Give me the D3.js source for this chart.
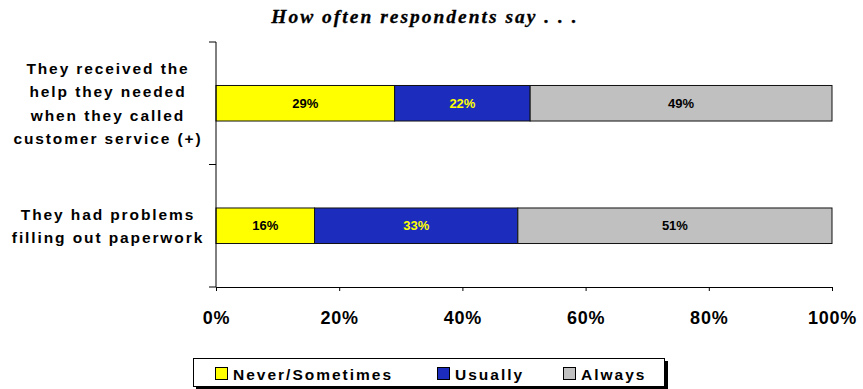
<!DOCTYPE html>
<html>
<head>
<meta charset="utf-8">
<script src="https://cdn.jsdelivr.net/npm/d3@7"></script>
<style>
  html, body { margin: 0; padding: 0; background: #fff; }
  svg { display: block; }
</style>
</head>
<body>
<svg id="chart" width="863" height="389"></svg>
<script>
// Survey statements (label text wrapped by hand)
const categories = [
  ["They received the", "help they needed", "when they called", "customer service (+)"],
  ["They had problems", "filling out paperwork"]
];
const seriesNames = ["Never/Sometimes", "Usually", "Always"];
const neverSometimes = [29, 16];
const usually = [22, 33];
const always = [49, 51];
const xTicks = [0, 20, 40, 60, 80, 100];
const colors = ["#ffff00", "#1c2dbd", "#c0c0c0"];
const labelColors = ["#000", "#ffff00", "#000"];

const svg = d3.select("#chart");
const margin = { left: 216, right: 31, top: 42, bottom: 102 };
const W = 863, H = 389;

const x = d3.scaleLinear().domain([0, 100]).range([margin.left, W - margin.right]);
const y = d3.scaleBand().domain(d3.range(categories.length))
  .range([margin.top, H - margin.bottom]).paddingInner(0.71).paddingOuter(0.355);

const rows = categories.map((c, i) => ({
  i, vals: [neverSometimes[i], usually[i], always[i]]
}));

// Title
svg.append("text")
  .attr("x", 425).attr("y", 23)
  .attr("text-anchor", "middle")
  .attr("font-family", "'Liberation Serif', 'Times New Roman', serif")
  .attr("font-weight", "bold").attr("font-style", "italic")
  .attr("font-size", 19.5).attr("letter-spacing", 2)
  .attr("stroke", "#000").attr("stroke-width", 0.3)
  .text("How often respondents say . . .");

// Stacked segments
rows.forEach(r => {
  let acc = 0;
  r.vals.forEach((v, k) => {
    const x0 = acc; acc += v;
    svg.append("rect")
      .attr("x", x(x0)).attr("y", y(r.i))
      .attr("width", x(acc) - x(x0)).attr("height", y.bandwidth())
      .attr("fill", colors[k]).attr("stroke", "#111").attr("stroke-width", 1);
    svg.append("text")
      .attr("x", (x(x0) + x(acc)) / 2).attr("y", y(r.i) + y.bandwidth() / 2 + 4.5)
      .attr("text-anchor", "middle")
      .attr("font-family", "'Liberation Sans Narrow', 'Arial Narrow', 'Liberation Sans', sans-serif")
      .attr("font-weight", "bold").attr("font-size", 13)
      .attr("fill", labelColors[k])
      .text(v + "%");
  });
});

// Y axis line with outward ticks at category boundaries
const yAxisG = svg.append("g");
yAxisG.append("line")
  .attr("x1", margin.left).attr("x2", margin.left)
  .attr("y1", margin.top).attr("y2", H - margin.bottom)
  .attr("stroke", "#000");
const step = (H - margin.bottom - margin.top) / categories.length;
d3.range(categories.length + 1).forEach(j => {
  yAxisG.append("line")
    .attr("x1", margin.left - 7).attr("x2", margin.left)
    .attr("y1", margin.top + j * step).attr("y2", margin.top + j * step)
    .attr("stroke", "#000");
});

// Category labels
categories.forEach((lines, i) => {
  const cy = y(i) + y.bandwidth() / 2;
  const lh = 23.5;
  const t = svg.append("text")
    .attr("text-anchor", "middle")
    .attr("font-family", "'Liberation Sans', Arial, sans-serif")
    .attr("font-weight", "bold").attr("font-size", 15.5)
    .attr("letter-spacing", 1.9)
    .attr("fill", "#000");
  lines.forEach((ln, k) => {
    t.append("tspan")
      .attr("x", 108)
      .attr("y", cy + (k - (lines.length - 1) / 2) * lh + 5.5)
      .text(ln);
  });
});

// X axis
const xAxis = d3.axisBottom(x).tickValues(xTicks).tickFormat(d => d + "%")
  .tickSize(4).tickSizeOuter(0);
const gx = svg.append("g")
  .attr("transform", `translate(0,${H - margin.bottom})`)
  .call(xAxis);
gx.select(".domain").attr("stroke", "#000");
gx.selectAll(".tick line").attr("stroke", "#000");
gx.selectAll(".tick text")
  .attr("y", 24)
  .attr("font-family", "'Liberation Sans', Arial, sans-serif")
  .attr("font-weight", "bold").attr("font-size", 18)
  .attr("letter-spacing", 0.8)
  .attr("fill", "#000");

// Legend box with drop shadow
const lg = svg.append("g");
lg.append("rect").attr("x", 196).attr("y", 361).attr("width", 472).attr("height", 28).attr("fill", "#000");
lg.append("rect").attr("x", 193.5).attr("y", 358.5).attr("width", 471).attr("height", 28)
  .attr("fill", "#fff").attr("stroke", "#000").attr("stroke-width", 1);
const legendX = [215, 437, 563];
seriesNames.forEach((name, k) => {
  lg.append("rect")
    .attr("x", legendX[k] + 0.5).attr("y", 367.5).attr("width", 12).attr("height", 12)
    .attr("fill", colors[k]).attr("stroke", "#000");
  lg.append("text")
    .attr("x", legendX[k] + 18).attr("y", 379.5)
    .attr("font-family", "'Liberation Sans', Arial, sans-serif")
    .attr("font-weight", "bold").attr("font-size", 15.5)
    .attr("letter-spacing", 2)
    .attr("fill", "#000")
    .text(name);
});
</script>
</body>
</html>
